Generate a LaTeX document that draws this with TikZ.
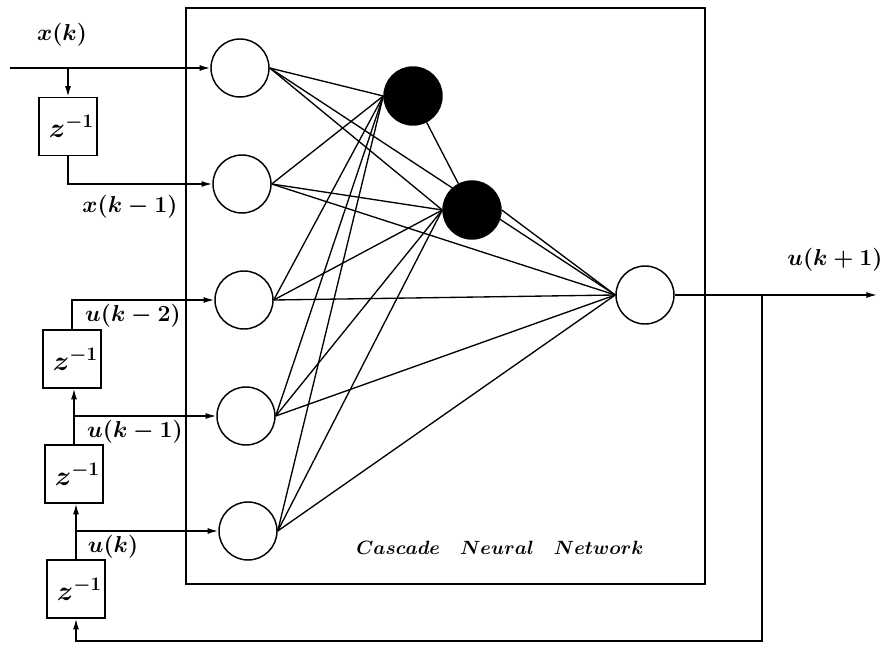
\documentclass[tikz,border=0pt]{standalone}
\usetikzlibrary{arrows.meta}
\newcommand\lblfont{\fontsize{17.5}{21}\selectfont\boldmath}
\newcommand\capfont{\fontsize{15}{18}\selectfont\boldmath}
\newcommand\zfont{\fontsize{20}{24}\selectfont\boldmath}
\begin{document}
\begin{tikzpicture}[x=0.75pt,y=-0.75pt,line width=1.1pt,
  neuron/.style={circle,draw,fill=white,minimum size=43.5pt,inner sep=0pt},
  hidden/.style={circle,draw,fill=black,minimum size=43.5pt,inner sep=0pt},
  delay/.style={draw,minimum width=43.5pt,minimum height=43.5pt,inner sep=0pt,font=\zfont},
  lbl/.style={font=\lblfont,inner sep=0pt},
  arr/.style={-{Latex[length=8pt,width=4.5pt]}},
  conn/.style={line width=1pt}]
\useasboundingbox (0,0) rectangle (886,648);
% network frame
\node (net) [draw,minimum width=389.25pt,minimum height=432pt,inner sep=0pt] at (445.5,296) {};
\node[font=\capfont] (cap) at (500,548) {$Cascade\quad Neural\quad Network$};
% neurons
\node[neuron] (in1) at (240,68) {};
\node[neuron] (in2) at (242,184) {};
\node[neuron] (in3) at (244,300) {};
\node[neuron] (in4) at (246,416) {};
\node[neuron] (in5) at (248,531) {};
\node[hidden] (b1) at (413,96) {};
\node[hidden] (b2) at (472,210) {};
\node[neuron] (out) at (645,295) {};
% delay boxes
\node[delay] (dx) at (68,126.5) {\hspace{5pt}$z^{-1}$};
\node[delay] (dA) at (72,359) {\hspace{5pt}$z^{-1}$};
\node[delay] (dB) at (74,474) {\hspace{5pt}$z^{-1}$};
\node[delay] (dC) at (76,589) {\hspace{5pt}$z^{-1}$};
% connections
\foreach \i in {1,...,5} {
  \draw[conn] (in\i.east) -- (b1.west);
  \draw[conn] (in\i.east) -- (b2.west);
  \draw[conn] (in\i.east) -- (out.west);
}
\draw[conn] (b1) -- (b2);
\draw[conn] (b2.east) -- (out.west);
% inputs
\coordinate (xin) at (10,68);
\draw[arr] (xin) -- (in1.west);
\draw[arr] (dx.north |- in1.west) -- (dx.north);
\draw[arr] (dx.south) |- (in2.west);
\draw[arr] (dA.north) |- (in3.west);
\draw[arr] (dB.north) -- (dB.north |- dA.south);
\draw[arr] (dB.north |- in4.west) -- (in4.west);
\draw[arr] (dC.north) -- (dC.north |- dB.south);
\draw[arr] (dC.north |- in5.west) -- (in5.west);
% output and feedback
\coordinate (oend) at (877,295);
\coordinate (br) at (762,295);
\coordinate (fb) at (762,641);
\draw[arr] (out.east) -- (oend);
\draw[arr] (br) -- (fb) -| (dC.south);
% labels
\node[lbl] (lxk) at (62,35) {$x(k)$};
\node[lbl] (lxk1) at (130,207) {$x(k-1)$};
\node[lbl] (luk2) at (133,316) {$u(k-2)$};
\node[lbl] (luk1) at (135,432) {$u(k-1)$};
\node[lbl] (luk) at (113,547) {$u(k)$};
\node[lbl] (lout) at (835,260) {$u(k+1)$};
\end{tikzpicture}
\end{document}
